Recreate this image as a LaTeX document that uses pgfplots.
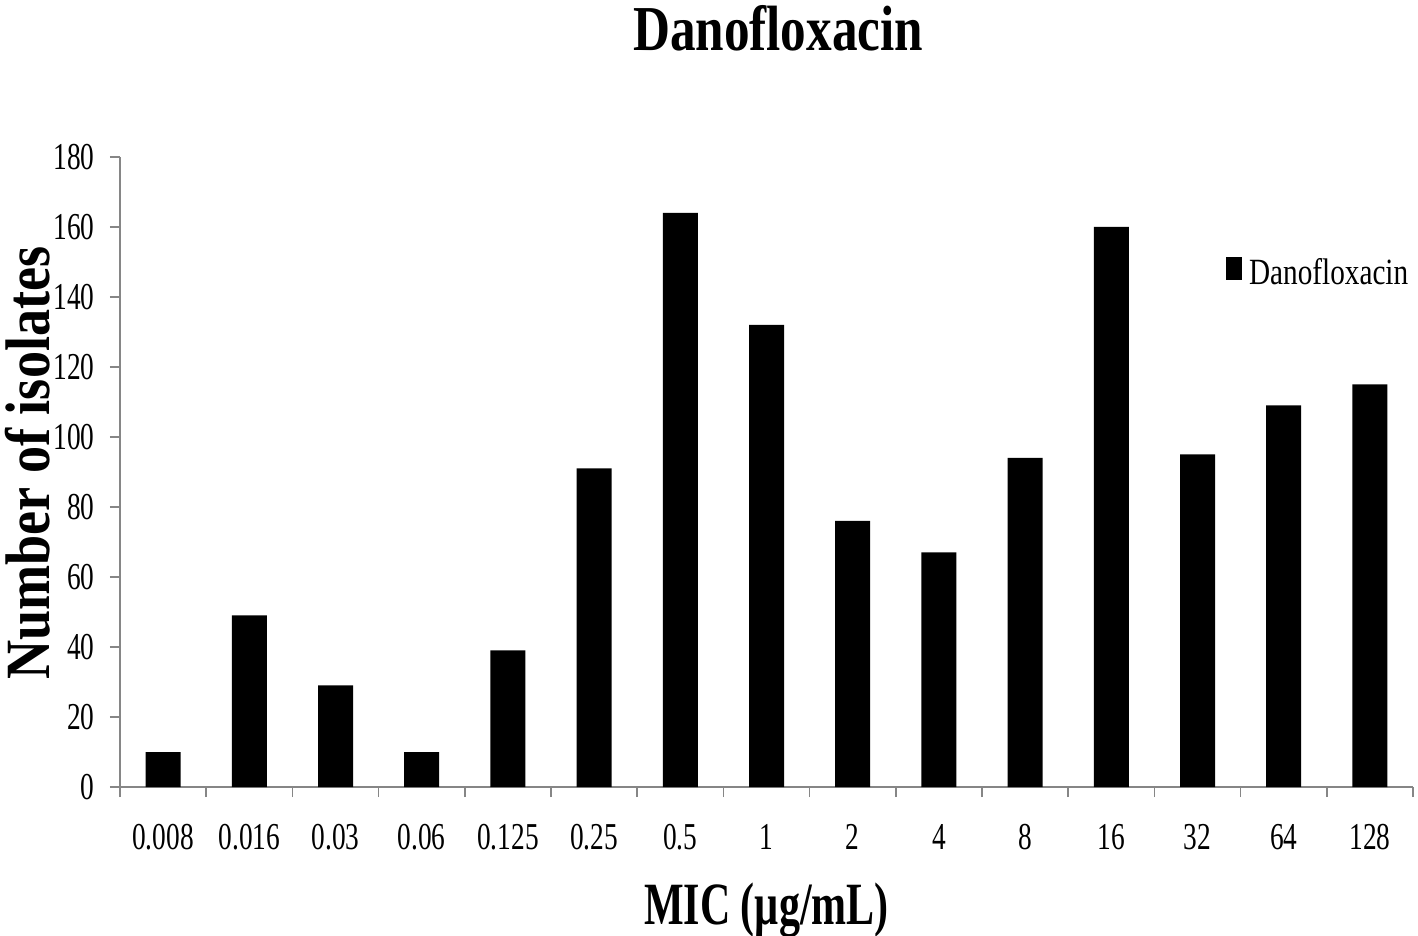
\documentclass[border=0pt]{standalone}
\usepackage{fontspec}
\setmainfont{Liberation Serif}
\newfontfamily\tickfont[FakeStretch=0.72]{Liberation Serif}
\newfontfamily\legfont[FakeStretch=0.79]{Liberation Serif}
\newfontfamily\titlefont[FakeStretch=0.8]{Liberation Serif}
\newfontfamily\xlabfont[FakeStretch=0.7]{Liberation Serif}
\newfontfamily\ylabfont[FakeStretch=0.86]{Liberation Serif}
\usepackage{pgfplots}
\pgfplotsset{compat=1.18}
\definecolor{axisgray}{HTML}{868686}
\pgfplotstableread{
x y
0 10
1 49
2 29
3 10
4 39
5 91
6 164
7 132
8 76
9 67
10 94
11 160
12 95
13 109
14 115
}\datatable
\begin{document}
\begin{tikzpicture}
\begin{axis}[
  scale only axis,
  width=1293pt, height=630pt,
  at={(0,0)}, anchor=south west,
  xmin=-0.5, xmax=14.5,
  ymin=0, ymax=180,
  axis x line=bottom, axis y line=left,
  axis line style={-, axisgray, line width=1.6pt},
  xtick={-0.5,0.5,...,14.5},
  x tick label as interval,
  xticklabels={0.008,0.016,0.03,0.06,0.125,0.25,0.5,1,2,4,8,16,32,64,128},
  ytick={0,20,...,180},
  tick align=outside,
  major tick length=10pt,
  tick style={axisgray, line width=1.6pt},
  /pgf/number format/assume math mode=true,
  ticklabel style={font=\fontsize{38}{40}\tickfont},
  xticklabel style={yshift=-24pt},
  yticklabel style={xshift=-12pt},
  title={Danofloxacin},
  title style={font=\fontsize{64}{70}\titlefont\bfseries, at={(axis description cs:0.509,1.195)}, anchor=center},
  xlabel={MIC (µg/mL)},
  xlabel style={font=\fontsize{60}{66}\xlabfont\bfseries, at={(axis description cs:0.5,-0.196)}, anchor=center},
  ylabel={Number of isolates},
  ylabel style={font=\fontsize{63}{68}\ylabfont\bfseries, at={(axis description cs:-0.0712,0.514)}, anchor=center, inner sep=0pt, rotate=0},
  legend style={draw=none, fill=none, at={(axis description cs:0.853,0.817)}, anchor=west, font=\fontsize{37}{40}\legfont, nodes={inner sep=3pt}},
  legend image code/.code={\fill[black] (0pt,-8pt) rectangle (16pt,15pt); \path (20pt,0pt);},
]
\addplot[ybar, bar width=35pt, fill=black, draw=none] table[x=x,y=y] {\datatable};
\addlegendentry{Danofloxacin}
\end{axis}
\pgfresetboundingbox
\path[use as bounding box] (-120pt,-149pt) rectangle (1298pt,787pt);
\end{tikzpicture}
\end{document}
